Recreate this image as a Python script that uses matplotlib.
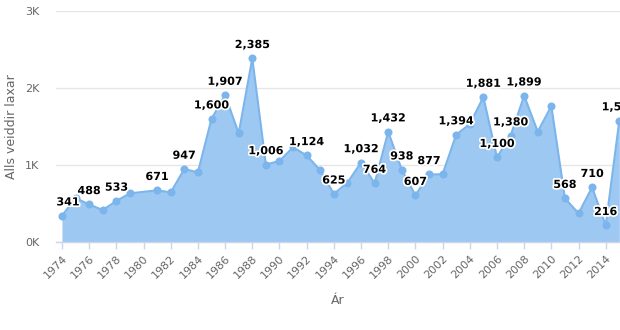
import matplotlib.pyplot as plt
import matplotlib.patheffects as pe
from matplotlib.ticker import FuncFormatter, MultipleLocator

# Yearly catch (1980 has no record)
years = [1974, 1975, 1976, 1977, 1978, 1979, 1981, 1982, 1983, 1984,
         1985, 1986, 1987, 1988, 1989, 1990, 1991, 1992, 1993, 1994,
         1995, 1996, 1997, 1998, 1999, 2000, 2001, 2002, 2003, 2004,
         2005, 2006, 2007, 2008, 2009, 2010, 2011, 2012, 2013, 2014,
         2015]
catch = [341, 570, 488, 415, 533, 632, 671, 645, 947, 905,
         1600, 1907, 1411, 2385, 1006, 1052, 1230, 1124, 931, 625,
         770, 1032, 764, 1432, 938, 607, 877, 880, 1394, 1532,
         1881, 1100, 1380, 1899, 1433, 1766, 568, 372, 710, 216,
         1576]

# Years that get a value label above the point
labeled_years = [1974, 1976, 1978, 1981, 1983, 1985, 1986, 1988, 1989,
                 1992, 1994, 1996, 1997, 1998, 1999, 2000, 2001, 2003,
                 2005, 2006, 2007, 2008, 2011, 2013, 2014, 2015]

LINE = "#7cb5ec"
FILL = "#9dc8f1"
GRID = "#e6e6e6"
AXIS = "#ccd6eb"
TEXT = "#666666"

fig = plt.figure(figsize=(6.2, 3.3), dpi=100)
ax = fig.add_axes([56 / 620, 1 - 242 / 330, 1 - 56 / 620, 231 / 330])

ax.fill_between(years, catch, 0, color=FILL, linewidth=0, zorder=2)
ax.plot(years, catch, color=LINE, linewidth=1.5, marker="o",
        markersize=5.8, markeredgewidth=0, zorder=3, clip_on=False)

outline = [pe.withStroke(linewidth=2.5, foreground="white")]
for yr, val in zip(years, catch):
    if yr not in labeled_years:
        continue
    ha = "left" if yr == years[0] else "center"
    dx = -4 if yr == years[0] else 0
    ax.annotate(f"{val:,}", (yr, val), xytext=(dx, 6),
                textcoords="offset points", ha=ha, va="bottom",
                fontsize=8, fontweight="bold", color="black",
                path_effects=outline, zorder=5, annotation_clip=False)

ax.set_xlim(1973.56, 2015.05)
ax.set_ylim(0, 3000)

ax.yaxis.set_major_locator(MultipleLocator(1000))
ax.yaxis.set_major_formatter(FuncFormatter(lambda v, _: f"{int(v / 1000)}K"))
ax.set_xticks(range(1974, 2015, 2))
ax.set_xticklabels([str(y) for y in range(1974, 2015, 2)], rotation=45,
                   ha="right", va="top", rotation_mode="anchor")

ax.grid(axis="y", color=GRID, linewidth=1, zorder=0)
for side in ("top", "right", "left"):
    ax.spines[side].set_visible(False)
ax.spines["bottom"].set_color(AXIS)
ax.spines["bottom"].set_linewidth(1)
ax.spines["bottom"].set_zorder(4)

ax.tick_params(axis="x", colors=AXIS, labelcolor=TEXT, length=5, width=1,
               labelsize=8, pad=3)
ax.tick_params(axis="y", length=0, labelcolor=TEXT, labelsize=8, pad=12)

ax.set_ylabel("Alls veiddir laxar", color=TEXT, fontsize=9, labelpad=4)
ax.yaxis.set_label_coords(-0.067, 0.5)
ax.set_xlabel("Ár", color=TEXT, fontsize=9)
ax.xaxis.set_label_coords(0.5, -0.225)

fig.savefig("out.png", dpi=100)
